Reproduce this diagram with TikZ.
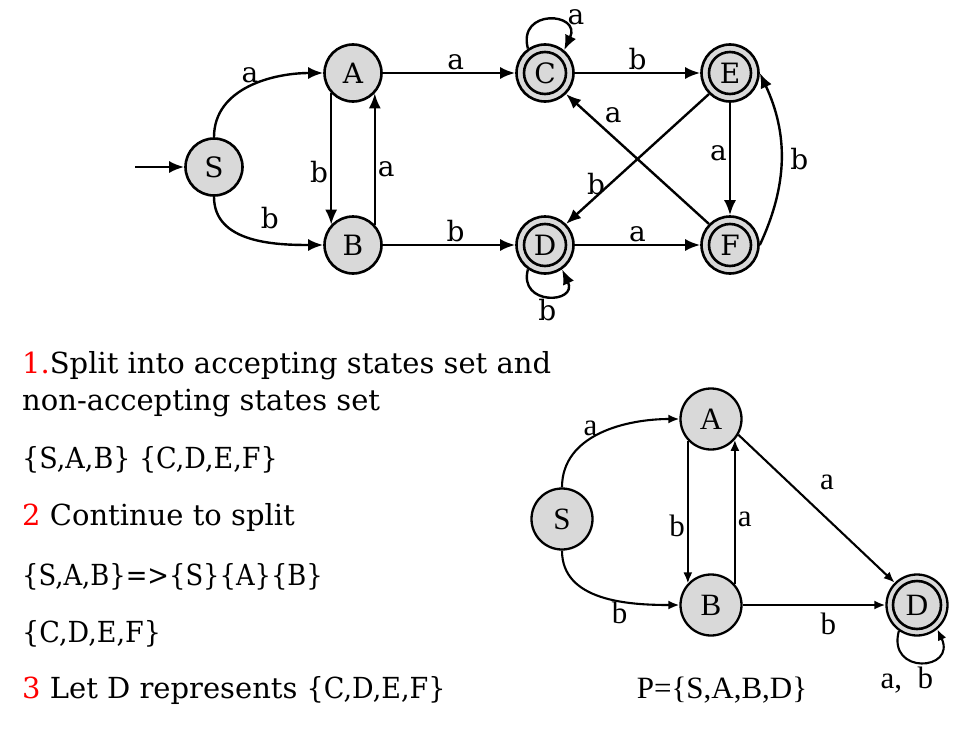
\documentclass[tikz,border=0pt]{standalone}
\usepackage{fontspec}
\usepackage{graphicx}
\setmainfont{DejaVu Serif}
\newfontfamily\timesfont{Liberation Serif}
\usetikzlibrary{arrows.meta}
\usetikzlibrary{positioning}
\definecolor{sgray}{RGB}{217,217,217}
\definecolor{mred}{RGB}{255,0,0}
\tikzset{state/.style = {circle, draw, fill=sgray, line width=2.6pt,
                         minimum size=57pt, inner sep=0}}
\tikzset{accept/.style = {state, path picture={\draw [line width=2.6pt]
                          (path picture bounding box.center) circle (#1);}},
         accept/.default = 21pt}
\tikzset{arr/.style = {line width=2.4pt, -{Latex[length=15pt, width=12pt]}}}
\tikzset{txt/.style = {anchor=base west, inner sep=0,
                       font=\fontsize{29}{34}\selectfont}}
\newcommand{\squeeze}[2][0.93]{\scalebox{#1}[1]{#2}}

\begin{document}
\begin{tikzpicture}[x=1pt, y=1pt, inner sep=2pt, font=\fontsize{28}{31}\selectfont]
    \useasboundingbox (0,0) rectangle (977,-736);

    % original automaton
    \node [state] (S) at (214,-167) {S};
    \node [state] (A) at (353,-73) {A};
    \node [state] (B) at (353,-245) {B};
    \node [accept] (C) at (545,-73) {C};
    \node [accept] (E) at (730,-73) {E};
    \node [accept] (D) at (545,-245) {D};
    \node [accept] (F) at (730,-245) {F};
    \coordinate (start) at (135,-167);

    \draw [arr] (start) -- (S);
    \draw [arr] (S.north) to [out=90, in=180] node [above, pos=0.5] {a} (A);
    \draw [arr] (S.south) to [out=-90, in=180] node [above right, pos=0.55, yshift=8pt] {b} (B);
    \draw [arr] (A.223) -- node [left, pos=0.6] {b} (B.137);
    \draw [arr] (B.43) -- node [right, pos=0.42] {a} (A.-43);
    \draw [arr] (A) -- node [above, pos=0.55] {a} (C);
    \draw [arr] (B) -- node [above, pos=0.55] {b} (D);
    \draw [arr] (C.125) to [out=105, in=65, distance=42pt] node [above right, pos=0.75] {a} (C.50);
    \draw [arr] (D.235) to [out=-105, in=-65, distance=38pt] node [below] {b} (D.-55);
    \draw [arr] (C) -- node [above] {b} (E);
    \draw [arr] (D) -- node [above] {a} (F);
    \draw [arr] (E.225) -- node [pos=0.79, above, inner sep=1pt] {b} (D.45);
    \draw [arr] (F.135) -- node [pos=0.75, above right] {a} (C.-45);
    \draw [arr] (E) -- node [left, pos=0.45] {a} (F);
    \draw [arr] (F.east) to [bend right=25] node [right, xshift=6pt] {b} (E.east);

    % steps
    \node [txt] (l1) at (22,-373) {\textcolor{mred}{1.}Split into accepting states set and};
    \node [txt] (l2) at (22,-410) {non-accepting states set};
    \node [txt] (l3) at (22,-468) {\squeeze{\{S,A,B\} \{C,D,E,F\}}};
    \node [txt] (l4) at (22,-525) {\textcolor{mred}{2} Continue to split};
    \node [txt] (l5) at (22,-585) {\squeeze[0.89]{\{S,A,B\}=>\{S\}\{A\}\{B\}}};
    \node [txt] (l6) at (22,-642) {\squeeze{\{C,D,E,F\}}};
    \node [txt] (l7) at (22,-698) {\textcolor{mred}{3} Let D represents \squeeze{\{C,D,E,F\}}};

    % minimized automaton
    \begin{scope}[font=\timesfont\fontsize{31}{34}\selectfont,
                  state/.append style={minimum size=61pt, line width=2.3pt},
                  arr/.append style={line width=2.1pt, -{Latex[length=11pt, width=9pt]}}]
      \node [state] (mS) at (562,-519) {S};
      \node [state] (mA) at (711,-419) {A};
      \node [state] (mB) at (711,-605) {B};
      \node [accept=24pt] (mD) at (917,-605) {D};

      \draw [arr] (mS.north) to [out=90, in=180] node [above, pos=0.42] {a} (mA);
      \draw [arr] (mS.south) to [out=-90, in=180] node [below right, pos=0.55] {b} (mB);
      \draw [arr] (mA.223) -- node [left, pos=0.6] {b} (mB.137);
      \draw [arr] (mB.41) -- node [right, pos=0.45] {a} (mA.-41);
      \draw [arr] (mA.-30) -- node [pos=0.45, above right=12pt] {a} (mD.135);
      \draw [arr] (mB) -- node [below, pos=0.6, yshift=-5pt] {b} (mD);
      \draw [arr] (mD.235) to [out=-105, in=-65, distance=46pt] node [below, xshift=-14pt, yshift=-2pt] {a,\ \ b} (mD.-50);
      \node (pset) at (722,-690) {P=\{S,A,B,D\}};
    \end{scope}
\end{tikzpicture}
\end{document}
